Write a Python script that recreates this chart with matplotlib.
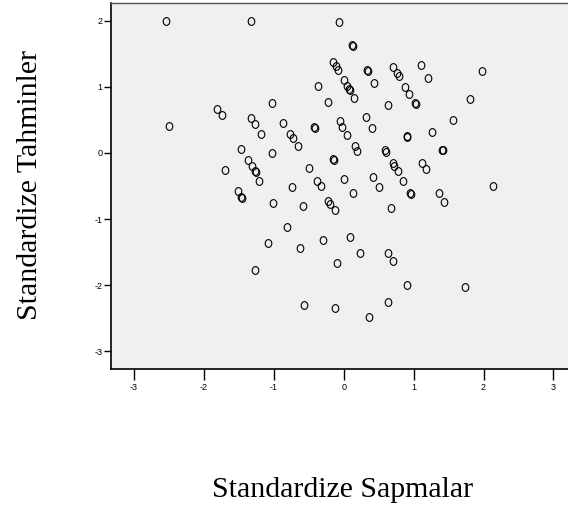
import numpy as np
import matplotlib.pyplot as plt
from matplotlib.path import Path

# residuals (x) vs predicted (y)
sapma = [-2.54, -1.33, -0.07, 0.12, 0.13, -0.15, -0.11, -0.08, 0.33, 0.34,
         0.44, 0.71, 0.76, 0.79, 1.10, 1.21, 1.98, 0.88, 0.93, 1.02,
         1.03, 0.63, 1.81, 0.32, 0.41, -0.06, -0.02, 0.05, 0.90, 0.91,
         1.27, 1.57, 0.16, 0.19, 0.59, 0.61, 1.41, 1.42, -0.15, -0.14,
         0.70, 0.72, 0.77, 0.85, 1.12, 1.17, 0.01, 0.42, 0.51, 2.13,
         -0.37, -0.22, 0.01, 0.05, 0.08, 0.09, 0.15, -1.03, -1.32, -1.27,
         -1.19, -0.87, -0.77, -0.73, -0.66, -0.42, -0.41, -1.02, -1.37, -1.31,
         -1.27, -1.26, -1.21, -0.49, -0.38, -0.33, -0.74, -1.81, -1.74, -2.50,
         -1.47, -1.70, -1.52, -1.47, -1.46, -1.01, -0.58, -0.22, -0.19, -0.13,
         -0.81, -1.08, -0.63, -0.30, 0.09, 0.23, -0.09, -1.27, -0.57, -0.13,
         0.13, 0.95, 0.96, 1.36, 1.43, 0.67, 0.64, 0.70, 0.91, 1.74,
         0.64, 0.36]
tahmin = [1.99, 2.00, 1.98, 1.63, 1.62, 1.37, 1.31, 1.25, 1.25, 1.24,
          1.06, 1.30, 1.21, 1.17, 1.33, 1.14, 1.24, 1.00, 0.90, 0.75,
          0.74, 0.72, 0.82, 0.54, 0.38, 0.49, 0.40, 0.27, 0.25, 0.24,
          0.31, 0.50, 0.10, 0.03, 0.05, 0.01, 0.05, 0.04, -0.09, -0.10,
          -0.15, -0.19, -0.28, -0.42, -0.15, -0.25, -0.40, -0.37, -0.52, -0.50,
          1.02, 0.77, 1.10, 1.02, 0.97, 0.96, 0.83, 0.75, 0.53, 0.44,
          0.28, 0.45, 0.29, 0.22, 0.10, 0.39, 0.38, 0.00, -0.11, -0.20,
          -0.28, -0.29, -0.42, -0.22, -0.42, -0.50, -0.51, 0.66, 0.57, 0.41,
          0.06, -0.26, -0.57, -0.67, -0.68, -0.75, -0.80, -0.72, -0.77, -0.87,
          -1.12, -1.37, -1.44, -1.31, -1.27, -1.51, -1.67, -1.77, -2.30, -2.35,
          -0.60, -0.61, -0.62, -0.60, -0.74, -0.83, -1.51, -1.63, -2.00, -2.03,
          -2.26, -2.48]

xticks = [-3, -2, -1, 0, 1, 2, 3]
yticks = [-3, -2, -1, 0, 1, 2]

# slightly tall open circle, like the SPSS "o" marker
circ = Path.unit_circle()
oval = Path(circ.vertices * np.array([0.85, 1.0]), circ.codes)

fig = plt.figure(figsize=(5.68, 5.18), dpi=100)
ax = fig.add_axes([111 / 568, (518 - 369) / 518, (568 - 111) / 568 + 0.01, 366 / 518])
ax.set_facecolor('#f0f0f0')

ax.plot(sapma, tahmin, linestyle='none', marker=oval, markersize=5.6,
        markerfacecolor='none', markeredgecolor='black', markeredgewidth=0.8)

ax.set_xlim(-3.33, 3.29)
ax.set_ylim(-3.27, 2.27)
ax.set_xticks(xticks)
ax.set_yticks(yticks)
ax.set_xticklabels([str(t) for t in xticks], fontsize=6.5, family='Liberation Sans')
ax.set_yticklabels([str(t) for t in yticks], fontsize=6.5, family='Liberation Sans')
ax.tick_params(axis='x', direction='out', length=8, width=1, pad=2)
ax.tick_params(axis='y', direction='out', length=5, width=1, pad=1)

ax.spines['right'].set_visible(False)
ax.spines['top'].set_color('#555555')
ax.spines['top'].set_linewidth(1.0)
ax.spines['left'].set_linewidth(1.2)
ax.spines['bottom'].set_linewidth(1.2)

fig.text(30 / 568, 1 - 185 / 518, 'Standardize Tahminler', rotation=90,
         ha='center', va='center', fontsize=21.5, family='Liberation Serif')
fig.text(343 / 568, 1 - 490 / 518, 'Standardize Sapmalar',
         ha='center', va='center', fontsize=21.5, family='Liberation Serif')

fig.savefig('out.png', dpi=100)
